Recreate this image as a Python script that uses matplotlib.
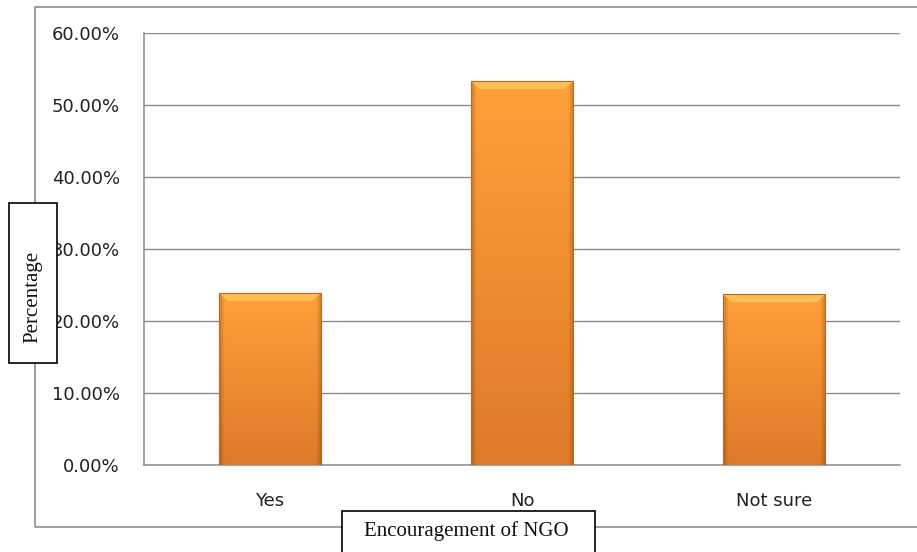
import numpy as np
import matplotlib
matplotlib.use("Agg")
import matplotlib.pyplot as plt
from matplotlib.patches import Rectangle, Polygon
from matplotlib.ticker import FuncFormatter

categories = ["Yes", "No", "Not sure"]
values = [23.9, 53.3, 23.7]
yticks = [0, 10, 20, 30, 40, 50, 60]

W, H = 917, 552
fig = plt.figure(figsize=(W / 100, H / 100), dpi=100)
fig.patch.set_facecolor("white")

# outer chart frame
fig.patches.append(Rectangle((35 / W, 1 - 527 / H), (W + 10 - 35) / W, (527 - 7) / H,
                             transform=fig.transFigure, fill=False,
                             edgecolor="#8c8c8c", lw=1.2, zorder=0))

ax = fig.add_axes([144 / W, 1 - 465 / H, 756 / W, 432 / H])
ax.set_ylim(0, 60)
ax.set_xlim(-0.5, 2.5)
ax.set_yticks(yticks)
ax.yaxis.set_major_formatter(FuncFormatter(lambda v, p: f"{v:.2f}%"))
ax.grid(axis="y", color="#8c8c8c", lw=1.0, zorder=0)
ax.set_axisbelow(True)
for s in ["top", "right"]:
    ax.spines[s].set_visible(False)
for s in ["left", "bottom"]:
    ax.spines[s].set_color("#8c8c8c")
    ax.spines[s].set_linewidth(1.1)
ax.tick_params(length=0, labelsize=13, colors="#222222")
ax.tick_params(axis="y", pad=17.5)
ax.tick_params(axis="x", pad=19.5)

x = np.arange(len(categories))
bars = ax.bar(x, values, width=0.405, facecolor="none", edgecolor="none", zorder=2)
ax.set_xticks(x)
ax.set_xticklabels(categories)

# gradient image
nr, nc = 200, 100
top = np.array([255, 160, 58]) / 255
bot = np.array([222, 122, 40]) / 255
t = np.linspace(0, 1, nr)[:, None, None]
img = top * (1 - t) + bot * t
cx = np.linspace(0, 1, nc)
edge = np.clip(np.minimum(cx, 1 - cx) / 0.05, 0, 1)
shade = 0.80 + 0.20 * edge
img = img * shade[None, :, None]

for b in bars:
    x0, y0 = b.get_x(), b.get_y()
    w, h = b.get_width(), b.get_height()
    im = ax.imshow(img, extent=[x0, x0 + w, y0, y0 + h], aspect="auto",
                   zorder=3, interpolation="bilinear")
    im.set_clip_path(b)
    # top bevel highlight
    bh = 1.1
    bw = 0.035
    poly = Polygon([[x0, y0 + h], [x0 + w, y0 + h], [x0 + w - bw, y0 + h - bh],
                    [x0 + bw, y0 + h - bh]], closed=True,
                   facecolor="#ffc25a", edgecolor="none", alpha=0.9, zorder=4)
    ax.add_patch(poly)
    ax.add_patch(Rectangle((x0, y0), w, h, fill=False, edgecolor="#c2661f",
                           lw=0.8, zorder=5))

ax.set_xlim(-0.5, 2.5)
ax.set_ylim(0, 60)

# axis title boxes
fig.patches.append(Rectangle((9 / W, 1 - 363 / H), 48 / W, 160 / H,
                             transform=fig.transFigure, facecolor="white",
                             edgecolor="black", lw=1.2, zorder=5))
fig.text(33 / W, 1 - 297 / H, "Percentage", rotation=90, ha="center", va="center",
         family="Liberation Serif", fontsize=15, color="#111111", zorder=6)

fig.patches.append(Rectangle((342 / W, 1 - 560 / H), 253 / W, 49 / H,
                             transform=fig.transFigure, facecolor="white",
                             edgecolor="black", lw=1.2, zorder=5))
fig.text(466 / W, 1 - 531 / H, "Encouragement of NGO", ha="center", va="center",
         family="Liberation Serif", fontsize=15, color="#111111", zorder=6)

fig.savefig("out.png", dpi=100)
